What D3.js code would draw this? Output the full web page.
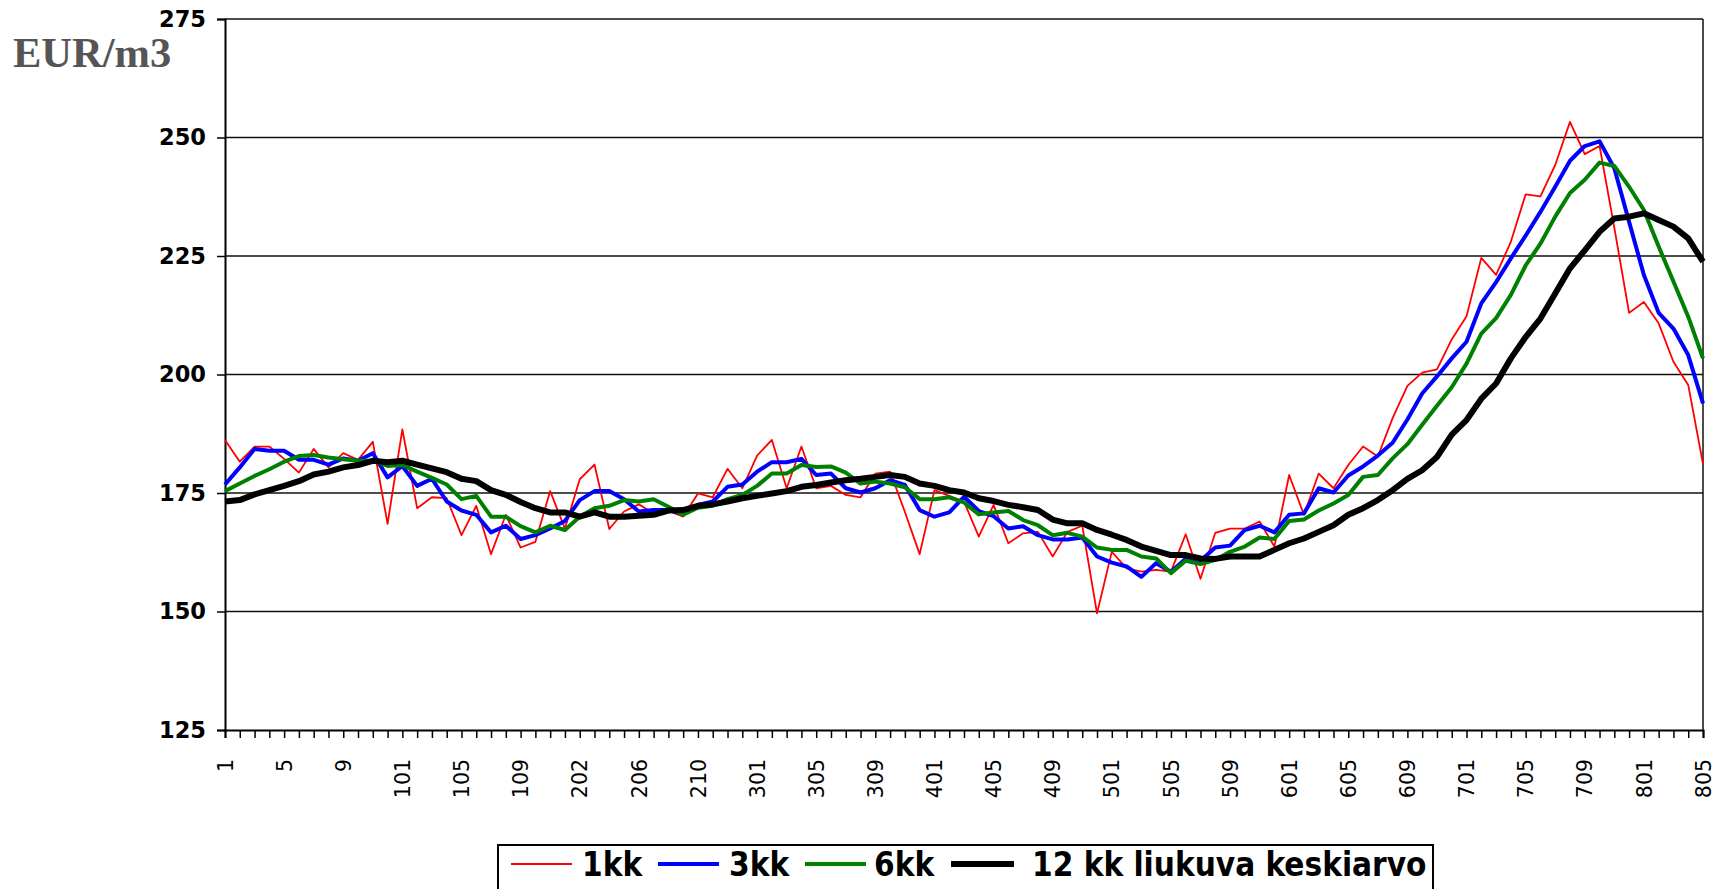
<!DOCTYPE html>
<html>
<head>
<meta charset="utf-8">
<script src="https://cdn.jsdelivr.net/npm/d3@7"></script>
<style>
  html, body { margin: 0; padding: 0; background: #fff; }
  svg { display: block; }
</style>
</head>
<body>
<svg id="chart" width="1719" height="889"></svg>
<script>
// Kuukausihinnat ja liukuvat keskiarvot, EUR/m3

// labels shown under every 4th month (101 months in total)
const tickLabels = ["1", "5", "9", "101", "105", "109", "202", "206", "210",
  "301", "305", "309", "401", "405", "409", "501", "505", "509",
  "601", "605", "609", "701", "705", "709", "801", "805"];

const yTicks = [125, 150, 175, 200, 225, 250, 275];

const kk1 = [186.2, 181.6, 184.8, 184.8, 182.2, 179.3, 184.3, 180.4, 183.4, 182.0,
  185.8, 168.5, 188.4, 171.8, 174.1, 173.9, 166.1, 172.3, 162.1, 170.4,
  163.5, 164.7, 175.4, 167.5, 177.9, 181.0, 167.4, 171.1, 172.6, 170.7,
  171.2, 170.0, 174.9, 174.1, 180.1, 176.0, 182.9, 186.2, 176.0, 184.8,
  176.0, 176.5, 174.6, 174.1, 179.1, 179.5, 171.0, 162.1, 175.6, 174.4,
  173.2, 165.8, 172.5, 164.4, 166.5, 166.8, 161.6, 166.8, 168.1, 149.6,
  162.6, 159.1, 158.4, 158.8, 158.4, 166.3, 156.9, 166.6, 167.5, 167.5,
  169.0, 163.7, 178.8, 170.4, 179.1, 176.0, 180.9, 184.8, 182.7, 190.8,
  197.6, 200.4, 201.1, 207.4, 212.3, 224.6, 221.0, 228.0, 238.0, 237.6,
  244.2, 253.3, 246.5, 248.2, 231.0, 213.0, 215.3, 210.8, 202.7, 197.8,
  181.1];

const kk3 = [176.8, 180.4, 184.3, 183.9, 183.9, 182.0, 182.0, 181.0, 182.3, 181.8,
  183.4, 178.3, 180.7, 176.5, 178.0, 173.2, 171.3, 170.4, 166.7, 168.1,
  165.3, 166.1, 167.5, 169.1, 173.5, 175.4, 175.4, 173.7, 171.1, 171.4,
  171.4, 170.6, 172.5, 173.2, 176.3, 176.8, 179.5, 181.5, 181.5, 182.2,
  178.8, 179.1, 176.0, 175.1, 176.0, 177.7, 176.7, 171.4, 170.0, 170.9,
  174.2, 171.2, 170.1, 167.5, 168.0, 166.1, 165.2, 165.2, 165.6, 161.6,
  160.3, 159.5, 157.3, 160.2, 158.4, 161.1, 160.7, 163.5, 163.9, 167.2,
  168.1, 166.7, 170.4, 170.7, 176.0, 175.1, 178.7, 180.6, 182.9, 185.6,
  190.5, 196.0, 199.6, 203.4, 206.9, 215.0, 219.5, 224.5, 229.3, 234.3,
  239.6, 245.1, 248.2, 249.2, 243.5, 232.2, 221.0, 213.0, 209.7, 204.1,
  193.9];

const kk6 = [175.4, 177.0, 178.6, 180.0, 181.6, 182.8, 183.0, 182.5, 182.1, 181.8,
  181.8, 180.7, 180.9, 179.5, 178.2, 176.8, 173.7, 174.4, 170.0, 170.0,
  168.0, 166.7, 168.1, 167.2, 170.0, 171.8, 172.3, 173.5, 173.2, 173.7,
  172.1, 170.4, 171.9, 172.3, 173.7, 174.6, 176.5, 179.1, 179.1, 180.9,
  180.5, 180.6, 179.3, 177.0, 177.4, 177.0, 176.2, 173.7, 173.7, 174.1,
  173.0, 170.5, 170.9, 171.2, 169.3, 168.2, 166.1, 166.6, 165.8, 163.5,
  163.0, 163.0, 161.6, 161.2, 158.1, 160.7, 160.0, 160.9, 162.6, 163.7,
  165.6, 165.3, 169.1, 169.4, 171.3, 172.8, 174.6, 178.4, 178.8, 182.3,
  185.3, 189.4, 193.4, 197.3, 202.3, 208.6, 211.9, 216.8, 223.0, 227.6,
  233.3, 238.3, 241.1, 244.7, 244.0, 239.6, 234.7, 227.0, 219.6, 212.2,
  203.4];

const kk12 = [173.2, 173.5, 174.7, 175.6, 176.5, 177.5, 178.9, 179.5, 180.4, 180.9,
  181.8, 181.5, 181.8, 181.0, 180.2, 179.4, 178.0, 177.5, 175.6, 174.6,
  173.1, 171.8, 170.9, 170.9, 170.0, 170.9, 170.0, 170.0, 170.2, 170.4,
  171.3, 171.4, 172.3, 172.6, 173.2, 173.9, 174.4, 174.9, 175.4, 176.3,
  176.7, 177.2, 177.7, 178.0, 178.4, 178.8, 178.4, 177.0, 176.5, 175.6,
  175.1, 173.9, 173.3, 172.5, 172.0, 171.4, 169.4, 168.6, 168.6, 167.2,
  166.2, 165.1, 163.7, 162.8, 161.9, 161.9, 161.2, 161.1, 161.6, 161.6,
  161.6, 163.0, 164.4, 165.4, 166.8, 168.2, 170.4, 171.8, 173.5, 175.6,
  178.0, 179.8, 182.6, 187.3, 190.4, 194.9, 198.1, 203.4, 207.9, 211.8,
  217.1, 222.4, 226.2, 230.1, 232.9, 233.3, 234.0, 232.6, 231.2, 228.7,
  223.8];

const series = [
  { name: "1kk", values: kk1, color: "#ff0000", width: 1.8 },
  { name: "3kk", values: kk3, color: "#0000ff", width: 4 },
  { name: "6kk", values: kk6, color: "#008000", width: 4 },
  { name: "12 kk liukuva keskiarvo", values: kk12, color: "#000000", width: 6 }
];

const svg = d3.select("#chart");
const plotLeft = 225, plotRight = 1703, plotTop = 19, plotBottom = 730;
const nMonths = kk1.length;

const x = d3.scaleLinear().domain([0, nMonths - 1]).range([plotLeft, plotRight]);
const y = d3.scaleLinear().domain([125, 275]).range([plotBottom, plotTop]);

// gridlines
svg.append("g")
  .selectAll("line")
  .data(yTicks.slice(1))
  .join("line")
  .attr("x1", plotLeft).attr("x2", plotRight)
  .attr("y1", d => y(d)).attr("y2", d => y(d))
  .attr("stroke", "#111")
  .attr("stroke-width", 1.5);

// right border of the plot area
svg.append("line")
  .attr("x1", plotRight).attr("x2", plotRight)
  .attr("y1", plotTop).attr("y2", plotBottom)
  .attr("stroke", "#111").attr("stroke-width", 1.5);

// y axis
const yAxis = svg.append("g")
  .attr("transform", `translate(${plotLeft},0)`)
  .call(d3.axisLeft(y).tickValues(yTicks).tickSize(8).tickPadding(11));
yAxis.selectAll("text")
  .attr("font-family", "DejaVu Sans, Verdana, sans-serif")
  .attr("font-weight", "bold")
  .attr("font-size", "22.5px")
  .attr("fill", "#000");

// x axis: a tick for every month, a label every 4th
const xAxis = svg.append("g")
  .attr("transform", `translate(0,${plotBottom})`)
  .call(d3.axisBottom(x)
    .tickValues(d3.range(nMonths))
    .tickSize(8)
    .tickFormat(i => i % 4 === 0 ? tickLabels[i / 4] : ""));
xAxis.selectAll("text")
  .attr("font-family", "DejaVu Sans, Verdana, sans-serif")
  .attr("font-size", "20.5px")
  .attr("fill", "#000")
  .attr("text-anchor", "end")
  .attr("dy", "0.35em")
  .attr("transform", "rotate(-90)")
  .attr("x", -29)
  .attr("y", 0);

svg.selectAll(".domain").attr("stroke", "#000").attr("stroke-width", 2);
svg.selectAll(".tick line").attr("stroke", "#000").attr("stroke-width", 1.5);

// lines
const line = d3.line()
  .x((d, i) => x(i))
  .y(d => y(d));

svg.append("g")
  .selectAll("path")
  .data(series)
  .join("path")
  .attr("fill", "none")
  .attr("stroke", d => d.color)
  .attr("stroke-width", d => d.width)
  .attr("stroke-linejoin", "round")
  .attr("d", d => line(d.values));

// unit label
svg.append("text")
  .attr("x", 13).attr("y", 67)
  .attr("font-family", "Liberation Serif, Times New Roman, serif")
  .attr("font-weight", "bold")
  .attr("font-size", "42.5px")
  .attr("fill", "#555")
  .text("EUR/m3");

// legend
const legend = svg.append("g");
legend.append("rect")
  .attr("x", 498).attr("y", 845)
  .attr("width", 935).attr("height", 80)
  .attr("fill", "#fff")
  .attr("stroke", "#000").attr("stroke-width", 2);

const legendPos = [
  { x1: 511, x2: 572, tx: 582 },
  { x1: 658, x2: 719, tx: 729 },
  { x1: 805, x2: 866, tx: 874 },
  { x1: 951, x2: 1014, tx: 1032 }
];

series.forEach((s, k) => {
  const p = legendPos[k];
  legend.append("line")
    .attr("x1", p.x1).attr("x2", p.x2)
    .attr("y1", 864).attr("y2", 864)
    .attr("stroke", s.color)
    .attr("stroke-width", s.width);
  legend.append("text")
    .attr("x", p.tx).attr("y", 876)
    .attr("font-family", "DejaVu Sans Condensed, DejaVu Sans, sans-serif")
    .attr("font-weight", "bold")
    .attr("font-size", "33px")
    .attr("fill", "#000")
    .text(s.name);
});
</script>
</body>
</html>
